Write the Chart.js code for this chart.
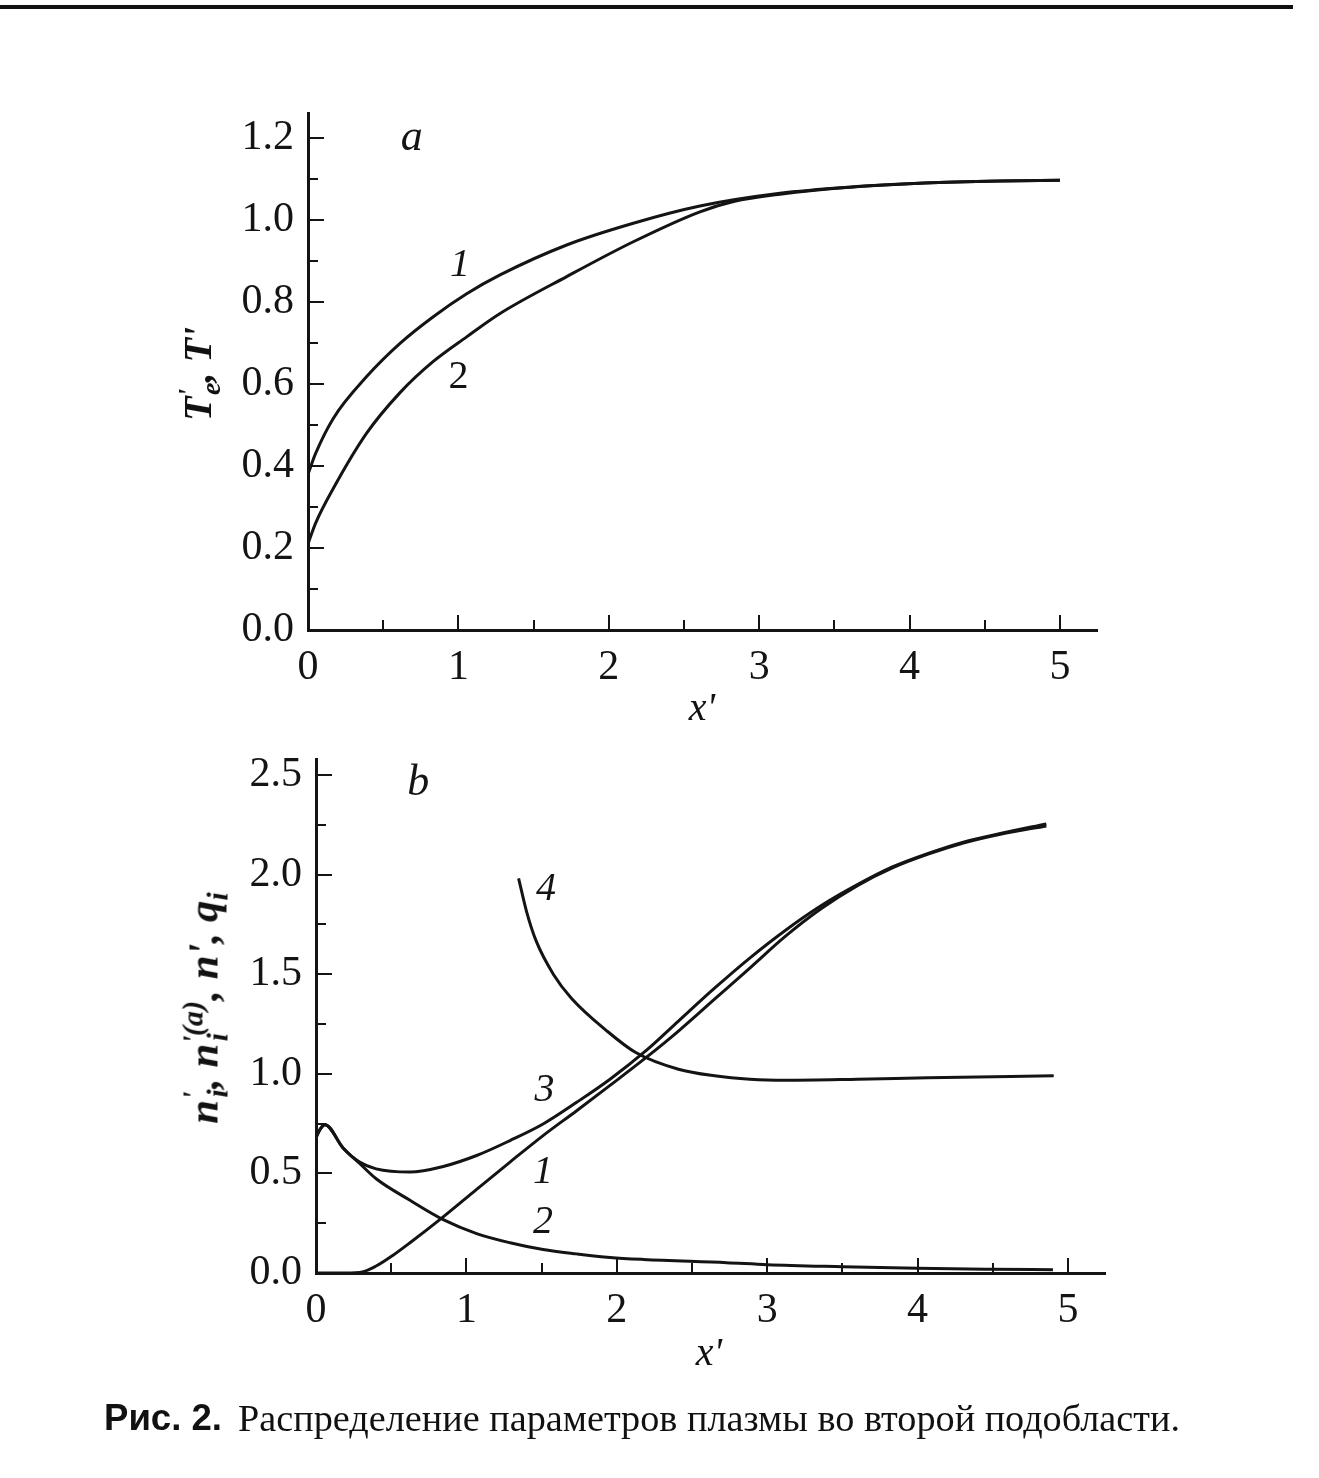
<!DOCTYPE html>
<html><head><meta charset="utf-8">
<script src="https://cdn.jsdelivr.net/npm/chart.js@4.4.1/dist/chart.umd.min.js"></script>
<style>
html,body{margin:0;padding:0;background:#fff;}
body{width:1319px;height:1478px;position:relative;overflow:hidden;}
#rule{position:absolute;left:0;top:5px;width:1293px;height:4px;background:#111;}
canvas{position:absolute;left:0;}
#c1{top:0;}
#c2{top:720px;}
.ytitle{position:absolute;font-family:'Liberation Serif',serif;font-style:italic;font-weight:bold;font-size:40px;color:#111;white-space:nowrap;line-height:1;transform:translate(-50%,-50%) rotate(-90deg);}
.ytitle sup,.ytitle sub{font-size:0.7em;line-height:0;}
.xtitle{position:absolute;font-family:'Liberation Serif',serif;font-style:italic;font-size:40px;color:#111;line-height:1;transform:translate(-50%,-50%);white-space:nowrap;}
#capB{position:absolute;left:104px;top:1400px;font-family:'Liberation Sans',Arial,sans-serif;font-weight:bold;font-size:36px;line-height:36px;color:#111;white-space:nowrap;transform-origin:0 0;}
#capS{position:absolute;left:238px;top:1400px;font-family:'Liberation Serif',serif;font-size:38px;line-height:36px;color:#111;white-space:nowrap;transform-origin:0 0;}
</style>
</head><body>
<div id="rule"></div>
<canvas id="c1" width="1319" height="720"></canvas>
<canvas id="c2" width="1319" height="700"></canvas>
<div class="ytitle" style="left:198px;top:374px;">T<sup>'</sup><sub style="margin-left:-0.22em">e</sub>, T'</div>
<div class="ytitle" style="left:203px;top:1008px;font-size:43px;">n<sup>'</sup><sub style="margin-left:-0.2em">i</sub>, n<sup>'</sup><sub style="margin-left:-0.2em">i</sub><sup style="margin-left:-0.1em">(a)</sup>, n', q<sub>i</sub></div>
<div class="xtitle" style="left:702px;top:707px;">x'</div>
<div class="xtitle" style="left:709px;top:1352px;">x'</div>
<div id="capB">Рис. 2.</div>
<div id="capS">Распределение параметров плазмы во второй подобласти.</div>
<script>
// ---------- Panel a data (curve 1: T'e, curve 2: T') ----------
const xTe = [0, 0.05, 0.168, 0.39, 0.612, 0.833, 1.055, 1.277, 1.72, 2.163, 2.606, 3.138, 3.6, 4.1, 4.6, 5.0];
const Te  = [0.38, 0.43, 0.516, 0.618, 0.699, 0.764, 0.82, 0.866, 0.939, 0.992, 1.034, 1.065, 1.08, 1.09, 1.095, 1.097];
const xT  = [0, 0.05, 0.168, 0.39, 0.612, 0.833, 1.055, 1.277, 1.72, 2.163, 2.606, 2.83, 3.138, 3.6, 4.1, 4.6, 5.0];
const T   = [0.21, 0.26, 0.345, 0.48, 0.579, 0.655, 0.715, 0.772, 0.862, 0.947, 1.02, 1.045, 1.063, 1.08, 1.09, 1.095, 1.097];
const aXTicks = [0, 1, 2, 3, 4, 5];
const aXMinor = [0.5, 1.5, 2.5, 3.5, 4.5];
const aYTicks = [0, 0.2, 0.4, 0.6, 0.8, 1.0, 1.2];
const aYMinor = [0.1, 0.3, 0.5, 0.7, 0.9, 1.1];

// ---------- Panel b data ----------
const x1 = [0, 0.15, 0.29, 0.40, 0.51, 0.625, 0.846, 1.068, 1.29, 1.51, 1.733, 1.955, 2.2, 2.41, 2.65, 2.89, 3.12, 3.36, 3.6, 3.836, 4.07, 4.31, 4.55, 4.856];
const n1 = [0, 0, 0.003, 0.035, 0.088, 0.152, 0.282, 0.42, 0.557, 0.69, 0.815, 0.942, 1.085, 1.215, 1.375, 1.535, 1.69, 1.83, 1.945, 2.035, 2.103, 2.16, 2.203, 2.245];
const x2 = [0, 0.03, 0.06, 0.18, 0.29, 0.40, 0.625, 0.846, 1.068, 1.29, 1.51, 1.733, 1.955, 2.176, 2.73, 3.0, 3.5, 4.0, 4.5, 4.9];
const n2 = [0.68, 0.725, 0.745, 0.628, 0.55, 0.473, 0.365, 0.268, 0.198, 0.152, 0.118, 0.096, 0.078, 0.068, 0.052, 0.042, 0.032, 0.024, 0.019, 0.016];
const x3 = [0, 0.03, 0.06, 0.18, 0.29, 0.40, 0.625, 0.846, 1.068, 1.29, 1.51, 1.733, 1.955, 2.2, 2.41, 2.65, 2.89, 3.12, 3.36, 3.6, 3.836, 4.07, 4.31, 4.55, 4.856];
const n3 = [0.68, 0.725, 0.745, 0.628, 0.557, 0.523, 0.507, 0.535, 0.59, 0.665, 0.748, 0.857, 0.973, 1.12, 1.265, 1.43, 1.585, 1.72, 1.845, 1.95, 2.04, 2.107, 2.165, 2.207, 2.255];
const x4 = [1.347, 1.40, 1.465, 1.58, 1.698, 1.935, 2.126, 2.41, 2.65, 2.886, 3.123, 3.6, 4.07, 4.905];
const q4 = [1.982, 1.815, 1.665, 1.498, 1.38, 1.215, 1.107, 1.023, 0.99, 0.973, 0.968, 0.973, 0.98, 0.99];
const bXTicks = [0, 1, 2, 3, 4, 5];
const bXMinor = [0.5, 1.5, 2.5, 3.5, 4.5];
const bYTicks = [0, 0.5, 1.0, 1.5, 2.0, 2.5];
const bYMinor = [0.25, 0.75, 1.25, 1.75, 2.25];

const INK = '#141414';
const SERIF = "'Liberation Serif', serif";
const pts = (xs, ys) => xs.map((x, i) => ({x, y: ys[i]}));
const ds = (xs, ys, w) => ({data: pts(xs, ys), borderColor: INK, borderWidth: w || 3, pointRadius: 0,
  cubicInterpolationMode: 'monotone', fill: false});

const inwardTicks = {
  id: 'inwardTicks',
  afterDraw(chart, args, o) {
    const {ctx, chartArea: a, scales: {x, y}} = chart;
    ctx.save();
    ctx.strokeStyle = INK; ctx.lineWidth = 2;
    ctx.beginPath();
    for (const v of o.xMajor) { const p = Math.round(x.getPixelForValue(v)); ctx.moveTo(p, a.bottom); ctx.lineTo(p, a.bottom - 15); }
    for (const v of o.xMinor) { const p = Math.round(x.getPixelForValue(v)); ctx.moveTo(p, a.bottom); ctx.lineTo(p, a.bottom - 10); }
    for (const v of o.yMajor) { const p = Math.round(y.getPixelForValue(v)); ctx.moveTo(a.left, p); ctx.lineTo(a.left + 16, p); }
    for (const v of o.yMinor) { const p = Math.round(y.getPixelForValue(v)); ctx.moveTo(a.left, p); ctx.lineTo(a.left + 10, p); }
    ctx.stroke();
    ctx.restore();
  }
};
const textLabels = {
  id: 'textLabels',
  afterDatasetsDraw(chart, args, o) {
    const {ctx, scales: {x, y}} = chart;
    ctx.save();
    ctx.fillStyle = INK; ctx.textAlign = 'center'; ctx.textBaseline = 'middle';
    for (const l of o.items) {
      ctx.font = l.font;
      ctx.fillText(l.text, x.getPixelForValue(l.x), y.getPixelForValue(l.y));
    }
    ctx.restore();
  }
};

const tickFont = {family: SERIF, size: 42};
function makeChart(id, datasets, cfg) {
  return new Chart(document.getElementById(id), {
    type: 'line',
    data: {datasets},
    plugins: [inwardTicks, textLabels],
    options: {
      responsive: false, animation: false, devicePixelRatio: 1,
      layout: {padding: cfg.padding},
      plugins: {legend: {display: false}, tooltip: {enabled: false},
        inwardTicks: cfg.ticks, textLabels: {items: cfg.labels}},
      scales: {
        x: {type: 'linear', min: 0, max: cfg.xMax,
          afterBuildTicks: s => { s.ticks = cfg.ticks.xMajor.map(v => ({value: v})); },
          afterFit: s => { s.height = cfg.xH; },
          ticks: {font: tickFont, color: INK, padding: 13, maxRotation: 0, autoSkip: false, callback: v => String(v)},
          grid: {display: false, drawTicks: false},
          border: {display: true, width: 3, color: INK}},
        y: {type: 'linear', min: 0, max: cfg.yMax,
          afterBuildTicks: s => { s.ticks = cfg.ticks.yMajor.map(v => ({value: v})); },
          afterFit: s => { s.width = cfg.yW; },
          ticks: {font: tickFont, color: INK, padding: 14, autoSkip: false, callback: v => Number(v).toFixed(1)},
          grid: {display: false, drawTicks: false},
          border: {display: true, width: 3, color: INK}}
      }
    }
  });
}

const itF = "italic 40px " + SERIF;
makeChart('c1', [ds(xTe, Te), ds(xT, T)], {
  xMax: 5.25, yMax: 1.26, xH: 90, yW: 308,
  padding: {left: 0, right: 1319 - 1097.6, top: 113.4, bottom: 0},
  ticks: {xMajor: aXTicks, xMinor: aXMinor, yMajor: aYTicks, yMinor: aYMinor},
  labels: [
    {text: 'a', x: 0.69, y: 1.2, font: "italic 44px " + SERIF},
    {text: '1', x: 1.01, y: 0.89, font: itF},
    {text: '2', x: 1.0, y: 0.617, font: "40px " + SERIF}
  ]
});
makeChart('c2', [ds(x1, n1), ds(x2, n2), ds(x3, n3), ds(x4, q4)], {
  xMax: 5.25, yMax: 2.58, xH: 147, yW: 316,
  padding: {left: 0, right: 1319 - 1105.6, top: 37, bottom: 0},
  ticks: {xMajor: bXTicks, xMinor: bXMinor, yMajor: bYTicks, yMinor: bYMinor},
  labels: [
    {text: 'b', x: 0.68, y: 2.46, font: "italic 44px " + SERIF},
    {text: '4', x: 1.53, y: 1.925, font: itF},
    {text: '3', x: 1.52, y: 0.915, font: itF},
    {text: '1', x: 1.51, y: 0.505, font: itF},
    {text: '2', x: 1.51, y: 0.255, font: itF}
  ]
});

function fitW(el, w) { const r = el.getBoundingClientRect().width; el.style.transform = 'scaleX(' + (w / r) + ')'; }
fitW(document.getElementById('capB'), 118);
fitW(document.getElementById('capS'), 942);
</script>
</body></html>
